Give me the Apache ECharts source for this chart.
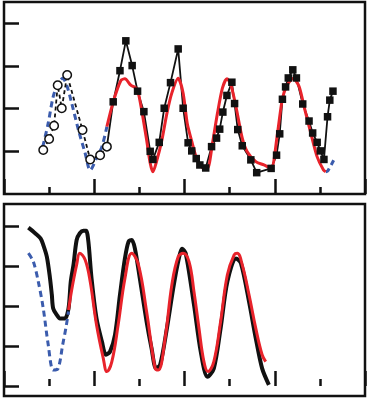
<!DOCTYPE html>
<html>
<head>
<meta charset="utf-8">
<script src="https://cdn.jsdelivr.net/npm/echarts@6/dist/echarts.min.js"></script>
<style>html,body{margin:0;padding:0;background:#fff}#c{width:369px;height:400px}</style>
</head>
<body>
<div id="c"></div>
<script>
// ---- Data (axis units; no labels in reference) ----
const xMajorTicks = [0, 2, 4, 6, 8];
const topYTicks = [1, 2, 3, 4];
const bottomYTicks = [0, 1, 2, 3, 4];

// Top panel
const topCircles = [[0.87,1.03],[1.00,1.29],[1.11,1.60],[1.19,2.55],[1.28,2.01],[1.40,2.79],[1.74,1.50],[1.91,0.81],[2.13,0.91],[2.28,1.11]];
const topSquares = [[2.42,2.16],[2.57,2.89],[2.70,3.59],[2.84,3.01],[2.96,2.41],[3.10,1.93],[3.24,1.00],[3.30,0.81],[3.44,1.21],[3.55,2.01],[3.69,2.61],[3.86,3.40],[3.97,2.01],[4.08,1.20],[4.16,1.01],[4.26,0.83],[4.34,0.68],[4.47,0.61],[4.60,1.11],[4.71,1.31],[4.78,1.52],[4.85,1.92],[4.94,2.31],[5.05,2.62],[5.11,2.12],[5.18,1.51],[5.28,1.13],[5.47,0.80],[5.60,0.50],[5.92,0.60],[6.04,0.91],[6.11,1.41],[6.17,2.22],[6.24,2.51],[6.30,2.72],[6.40,2.91],[6.48,2.72],[6.62,2.11],[6.76,1.71],[6.84,1.43],[6.94,1.21],[7.01,1.01],[7.09,0.81],[7.17,1.81],[7.22,2.20],[7.29,2.41]];
const topRed = [[2.28,1.58],[2.42,2.16],[2.59,2.66],[2.68,2.70],[2.81,2.55],[2.90,2.50],[2.96,2.44],[3.05,1.97],[3.16,1.27],[3.24,0.72],[3.30,0.52],[3.38,0.76],[3.50,1.27],[3.61,1.89],[3.72,2.37],[3.86,2.71],[3.97,2.36],[4.06,1.66],[4.17,1.20],[4.28,0.80],[4.43,0.60],[4.51,0.60],[4.62,1.19],[4.73,1.89],[4.84,2.48],[4.94,2.70],[5.02,2.59],[5.14,2.05],[5.28,1.31],[5.39,0.99],[5.58,0.76],[5.76,0.68],[5.92,0.60],[6.06,1.42],[6.17,2.24],[6.28,2.56],[6.41,2.71],[6.54,2.52],[6.65,2.05],[6.80,1.42],[6.94,0.87],[7.08,0.56],[7.13,0.52]];
const topBlue = [[0.86,1.11],[0.98,1.66],[1.09,2.28],[1.20,2.59],[1.30,2.71],[1.39,2.55],[1.50,2.13],[1.65,1.50],[1.80,0.95],[1.91,0.56],[2.05,0.84],[2.17,1.11],[2.28,1.58]];
const topBlueEnd = [[7.13,0.52],[7.18,0.55],[7.31,0.80]];

// Bottom panel
const bottomBlack = [[0.54,3.96],[0.69,3.82],[0.81,3.69],[0.87,3.53],[0.95,3.23],[1.02,2.69],[1.06,2.28],[1.09,1.94],[1.17,1.78],[1.24,1.69],[1.35,1.69],[1.43,1.94],[1.48,2.61],[1.54,3.03],[1.61,3.65],[1.68,3.82],[1.76,3.88],[1.82,3.88],[1.87,3.61],[1.94,2.69],[2.05,1.69],[2.17,1.11],[2.26,0.78],[2.35,0.86],[2.46,1.28],[2.57,2.28],[2.68,3.19],[2.76,3.61],[2.83,3.65],[2.90,3.44],[3.01,2.69],[3.16,1.61],[3.27,0.94],[3.37,0.44],[3.46,0.53],[3.61,1.44],[3.75,2.44],[3.86,3.11],[3.95,3.43],[4.03,3.30],[4.21,2.03],[4.36,0.86],[4.51,0.23],[4.65,0.44],[4.80,1.44],[4.95,2.61],[5.14,3.19],[5.25,3.07],[5.43,2.11],[5.58,1.19],[5.72,0.44],[5.87,0.03]];
const bottomRed = [[1.43,1.90],[1.50,2.40],[1.61,3.03],[1.68,3.32],[1.80,3.15],[1.91,2.61],[2.05,1.53],[2.20,0.69],[2.28,0.36],[2.39,0.61],[2.53,1.53],[2.68,2.69],[2.83,3.32],[2.98,3.03],[3.16,1.86],[3.35,0.44],[3.42,0.40],[3.57,1.19],[3.72,2.53],[3.86,3.23],[3.97,3.32],[4.10,3.11],[4.21,2.36],[4.32,1.45],[4.43,0.61],[4.52,0.36],[4.65,0.61],[4.80,1.61],[4.95,2.78],[5.10,3.28],[5.17,3.32],[5.28,3.03],[5.43,2.28],[5.58,1.44],[5.72,0.78],[5.80,0.61]];
const bottomBlue = [[0.54,3.32],[0.65,3.11],[0.76,2.61],[0.87,1.94],[0.98,1.03],[1.09,0.40],[1.20,0.44],[1.30,1.03],[1.37,1.44],[1.43,1.86]];

// ---- Styles ----
const INK = '#111';
const RED = '#e8232b';
const BLUE = '#3b5cad';

function xAxisCfg(gi) {
  return {
    gridIndex: gi, type: 'value', min: 0, max: 8, interval: 2,
    axisLine: { show: false },
    axisLabel: { show: false },
    splitLine: { show: false },
    axisTick: { show: true, inside: true, length: 15, customValues: xMajorTicks, lineStyle: { color: INK, width: 2.5 } },
    minorTick: { show: true, splitNumber: 2, length: 7, lineStyle: { color: INK, width: 2.5 } },
    minorSplitLine: { show: false }
  };
}
function yAxisCfg(gi, min, max, ticks) {
  return {
    gridIndex: gi, type: 'value', min: min, max: max,
    axisLine: { show: false },
    axisLabel: { show: false },
    splitLine: { show: false },
    axisTick: { show: true, inside: true, length: 15, customValues: ticks, lineStyle: { color: INK, width: 2.5 } }
  };
}

const chart = echarts.init(document.getElementById('c'), null, { renderer: 'canvas' });
chart.setOption({
  animation: false,
  backgroundColor: '#fff',
  grid: [
    { left: 4, right: 4, top: 2, height: 192, show: true, borderColor: INK, borderWidth: 2.5, backgroundColor: 'transparent' },
    { left: 4, right: 4, top: 204, height: 192, show: true, borderColor: INK, borderWidth: 2.5, backgroundColor: 'transparent' }
  ],
  xAxis: [xAxisCfg(0), xAxisCfg(1)],
  yAxis: [yAxisCfg(0, 0, 4.5, topYTicks), yAxisCfg(1, -0.25, 4.55, bottomYTicks)],
  series: [
    { type: 'line', xAxisIndex: 0, yAxisIndex: 0, data: topBlue, smooth: 0.3, showSymbol: false,
      lineStyle: { color: BLUE, width: 3, type: [6, 4] } },
    { type: 'line', xAxisIndex: 0, yAxisIndex: 0, data: topBlueEnd, smooth: 0.3, showSymbol: false,
      lineStyle: { color: BLUE, width: 3, type: [5, 4] } },
    { type: 'line', xAxisIndex: 0, yAxisIndex: 0, data: topCircles, symbol: 'circle', symbolSize: 8.5,
      itemStyle: { color: '#fff', borderColor: INK, borderWidth: 1.5 },
      lineStyle: { color: INK, width: 1.8, type: [4, 3] } },
    { type: 'line', xAxisIndex: 0, yAxisIndex: 0,
      data: [{ value: topCircles[topCircles.length - 1], symbol: 'none' }].concat(topSquares),
      symbol: 'rect', symbolSize: 7.5,
      itemStyle: { color: INK },
      lineStyle: { color: INK, width: 1.8 } },
    { type: 'line', xAxisIndex: 0, yAxisIndex: 0, data: topRed, smooth: 0.25, showSymbol: false,
      lineStyle: { color: RED, width: 3 } },

    { type: 'line', xAxisIndex: 1, yAxisIndex: 1, data: bottomBlack, smooth: 0.3, showSymbol: false,
      lineStyle: { color: INK, width: 4 } },
    { type: 'line', xAxisIndex: 1, yAxisIndex: 1, data: bottomBlue, smooth: 0.3, showSymbol: false,
      lineStyle: { color: BLUE, width: 3, type: [6, 4] } },
    { type: 'line', xAxisIndex: 1, yAxisIndex: 1, data: bottomRed, smooth: 0.4, showSymbol: false,
      lineStyle: { color: RED, width: 3 } }
  ]
});
</script>
</body>
</html>
